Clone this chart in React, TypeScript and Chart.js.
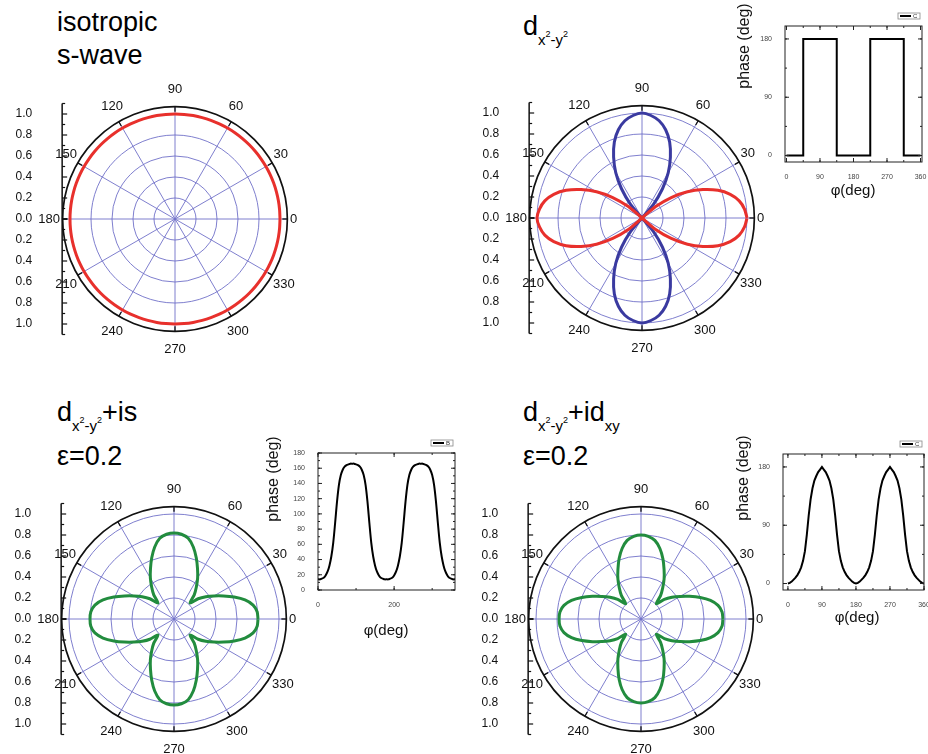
import React, { useEffect, useRef } from 'react';
import { Chart, registerables } from 'chart.js';
Chart.register(...registerables);

const FONT = "'Liberation Sans', Arial, Helvetica, sans-serif";

// ---------- polar data (angle in degrees, radius) ----------
const ANGLES_DEG = [
  0, 5, 10, 15, 20, 25, 30, 35, 40, 45, 50, 55, 60, 65, 70, 75, 80, 85,
  90, 95, 100, 105, 110, 115, 120, 125, 130, 135, 140, 145, 150, 155, 160, 165, 170, 175,
  180, 185, 190, 195, 200, 205, 210, 215, 220, 225, 230, 235, 240, 245, 250, 255, 260, 265,
  270, 275, 280, 285, 290, 295, 300, 305, 310, 315, 320, 325, 330, 335, 340, 345, 350, 355,
];

const ISO_S_R = [
  1.0, 1.0, 1.0, 1.0, 1.0, 1.0, 1.0, 1.0, 1.0, 1.0, 1.0, 1.0, 1.0, 1.0, 1.0, 1.0, 1.0, 1.0,
  1.0, 1.0, 1.0, 1.0, 1.0, 1.0, 1.0, 1.0, 1.0, 1.0, 1.0, 1.0, 1.0, 1.0, 1.0, 1.0, 1.0, 1.0,
  1.0, 1.0, 1.0, 1.0, 1.0, 1.0, 1.0, 1.0, 1.0, 1.0, 1.0, 1.0, 1.0, 1.0, 1.0, 1.0, 1.0, 1.0,
  1.0, 1.0, 1.0, 1.0, 1.0, 1.0, 1.0, 1.0, 1.0, 1.0, 1.0, 1.0, 1.0, 1.0, 1.0, 1.0, 1.0, 1.0,
];

// d_{x2-y2}: red = positive lobes, blue = negative lobes
const DX2Y2_POS_R = [
  1.00, 0.98, 0.94, 0.87, 0.77, 0.64, 0.50, 0.34, 0.17, 0.00,
  0, 0, 0, 0, 0, 0, 0, 0, 0, 0, 0, 0, 0, 0, 0, 0, 0,
  0.00, 0.17, 0.34, 0.50, 0.64, 0.77, 0.87, 0.94, 0.98, 1.00, 0.98, 0.94, 0.87, 0.77, 0.64, 0.50, 0.34, 0.17, 0.00,
  0, 0, 0, 0, 0, 0, 0, 0, 0, 0, 0, 0, 0, 0, 0, 0, 0,
  0.00, 0.17, 0.34, 0.50, 0.64, 0.77, 0.87, 0.94, 0.98,
];
const DX2Y2_NEG_R = [
  0, 0, 0, 0, 0, 0, 0, 0, 0, 0,
  0.17, 0.34, 0.50, 0.64, 0.77, 0.87, 0.94, 0.98, 1.00, 0.98, 0.94, 0.87, 0.77, 0.64, 0.50, 0.34, 0.17,
  0, 0, 0, 0, 0, 0, 0, 0, 0, 0, 0, 0, 0, 0, 0, 0, 0, 0, 0,
  0.17, 0.34, 0.50, 0.64, 0.77, 0.87, 0.94, 0.98, 1.00, 0.98, 0.94, 0.87, 0.77, 0.64, 0.50, 0.34, 0.17,
  0, 0, 0, 0, 0, 0, 0, 0, 0,
];

// d + is, eps = 0.2
const D_IS_R = [
  0.80, 0.795, 0.765, 0.70, 0.61, 0.52, 0.44, 0.37, 0.30, 0.215, 0.30, 0.37, 0.45, 0.53, 0.62, 0.71, 0.78, 0.81,
  0.82, 0.81, 0.78, 0.71, 0.62, 0.53, 0.45, 0.37, 0.30, 0.215, 0.30, 0.37, 0.44, 0.52, 0.61, 0.70, 0.765, 0.795,
  0.80, 0.795, 0.765, 0.70, 0.61, 0.52, 0.44, 0.37, 0.30, 0.215, 0.30, 0.37, 0.45, 0.53, 0.62, 0.71, 0.78, 0.81,
  0.82, 0.81, 0.78, 0.71, 0.62, 0.53, 0.45, 0.37, 0.30, 0.215, 0.30, 0.37, 0.44, 0.52, 0.61, 0.70, 0.765, 0.795,
];

// d + id_xy, eps = 0.2
const D_IDXY_R = [
  0.78, 0.775, 0.745, 0.685, 0.60, 0.51, 0.43, 0.36, 0.29, 0.205, 0.29, 0.36, 0.44, 0.52, 0.61, 0.695, 0.76, 0.79,
  0.80, 0.79, 0.76, 0.695, 0.61, 0.52, 0.44, 0.36, 0.29, 0.205, 0.29, 0.36, 0.43, 0.51, 0.60, 0.685, 0.745, 0.775,
  0.78, 0.775, 0.745, 0.685, 0.60, 0.51, 0.43, 0.36, 0.29, 0.205, 0.29, 0.36, 0.44, 0.52, 0.61, 0.695, 0.76, 0.79,
  0.80, 0.79, 0.76, 0.695, 0.61, 0.52, 0.44, 0.36, 0.29, 0.205, 0.29, 0.36, 0.43, 0.51, 0.60, 0.685, 0.745, 0.775,
];

const RING_VALUES = [0.2, 0.4, 0.6, 0.8, 1.0];
const SPOKE_ANGLES = [0, 30, 60, 90, 120, 150, 180, 210, 240, 270, 300, 330];
const RADIAL_TICKS = [0.0, 0.2, 0.4, 0.6, 0.8, 1.0];
const RADIAL_MINOR = [0.1, 0.3, 0.5, 0.7, 0.9, 1.1];

// ---------- inset phase data ----------
const DW_PHI = [0, 45, 45, 135, 135, 225, 225, 315, 315, 360];
const DW_PHASE = [0, 0, 180, 180, 0, 0, 180, 180, 0, 0];

const PHI_5 = [
  0, 5, 10, 15, 20, 25, 30, 35, 40, 45, 50, 55, 60, 65, 70, 75, 80, 85,
  90, 95, 100, 105, 110, 115, 120, 125, 130, 135, 140, 145, 150, 155, 160, 165, 170, 175,
  180, 185, 190, 195, 200, 205, 210, 215, 220, 225, 230, 235, 240, 245, 250, 255, 260, 265,
  270, 275, 280, 285, 290, 295, 300, 305, 310, 315, 320, 325, 330, 335, 340, 345, 350, 355, 360,
];
const DIS_PHASE = [
  14, 14, 15, 16, 19, 24, 32, 44, 62, 88, 116, 138, 151, 158, 162, 164, 165, 166,
  166, 166, 165, 164, 162, 158, 151, 138, 116, 88, 62, 44, 32, 24, 19, 16, 15, 14,
  14, 14, 15, 16, 19, 24, 32, 44, 62, 88, 116, 138, 151, 158, 162, 164, 165, 166,
  166, 166, 165, 164, 162, 158, 151, 138, 116, 88, 62, 44, 32, 24, 19, 16, 15, 14, 14,
];
const DIDXY_PHASE = [
  0, 1, 3, 6, 9, 13, 18, 25, 35, 50, 75, 105, 130, 147, 159, 166, 172, 176,
  180, 176, 172, 166, 159, 147, 130, 105, 75, 50, 35, 25, 18, 13, 9, 6, 3, 1,
  0, 1, 3, 6, 9, 13, 18, 25, 35, 50, 75, 105, 130, 147, 159, 166, 172, 176,
  180, 176, 172, 166, 159, 147, 130, 105, 75, 50, 35, 25, 18, 13, 9, 6, 3, 1, 0,
];

// tick values of the insets
const PHI_TICKS_90 = [0, 90, 180, 270, 360];
const PHASE_TICKS_90 = [0, 90, 180];
const PHI_TICKS_200 = [0, 200];
const PHASE_TICKS_20 = [0, 20, 40, 60, 80, 100, 120, 140, 160, 180];

// ---------- styling ----------
const RED = 'rgb(232,48,44)';
const BLUE = 'rgb(58,58,160)';
const GREEN = 'rgb(34,140,62)';
const GRID_COLOR = 'rgb(112,112,200)';
const OUTER_R = 1.07;
const AXIS_EXTENT = 1.1;
const LABEL_RX = 1.095;
const LABEL_RY = 1.238;

const POLAR_W = 310, POLAR_H = 290, POLAR_CX = 175, POLAR_CY = 145, POLAR_K = 105;

const polarFramePlugin = {
  id: 'polarFrame',
  beforeDatasetsDraw(chart: any) {
    const ctx = chart.ctx;
    const xs = chart.scales.x, ys = chart.scales.y;
    const cx = xs.getPixelForValue(0), cy = ys.getPixelForValue(0);
    const k = xs.getPixelForValue(1) - cx;
    const rad = (a: number) => (a * Math.PI) / 180;
    ctx.save();
    ctx.strokeStyle = GRID_COLOR;
    ctx.lineWidth = 0.9;
    RING_VALUES.forEach((r) => {
      ctx.beginPath();
      ctx.arc(cx, cy, r * k, 0, Math.PI * 2);
      ctx.stroke();
    });
    SPOKE_ANGLES.forEach((a) => {
      const t = rad(a);
      ctx.beginPath();
      ctx.moveTo(cx, cy);
      ctx.lineTo(cx + OUTER_R * k * Math.cos(t), cy - OUTER_R * k * Math.sin(t));
      ctx.stroke();
    });
    // outer circle
    ctx.strokeStyle = '#111';
    ctx.lineWidth = 1.7;
    ctx.beginPath();
    ctx.arc(cx, cy, OUTER_R * k, 0, Math.PI * 2);
    ctx.stroke();
    ctx.lineWidth = 1.3;
    SPOKE_ANGLES.forEach((a) => {
      const t = rad(a);
      const r1 = OUTER_R * k, r0 = r1 - 5;
      ctx.beginPath();
      ctx.moveTo(cx + r0 * Math.cos(t), cy - r0 * Math.sin(t));
      ctx.lineTo(cx + r1 * Math.cos(t), cy - r1 * Math.sin(t));
      ctx.stroke();
    });
    // left radial axis
    const ax = cx - OUTER_R * k - 0.5;
    ctx.lineWidth = 1.5;
    ctx.beginPath();
    ctx.moveTo(ax, cy - AXIS_EXTENT * k);
    ctx.lineTo(ax, cy + AXIS_EXTENT * k);
    ctx.stroke();
    ctx.lineWidth = 1.2;
    RADIAL_TICKS.forEach((v) => {
      [1, -1].forEach((s) => {
        const py = cy - s * v * k;
        ctx.beginPath();
        ctx.moveTo(ax, py);
        ctx.lineTo(ax + 5, py);
        ctx.stroke();
      });
    });
    RADIAL_MINOR.forEach((v) => {
      [1, -1].forEach((s) => {
        const py = cy - s * v * k;
        ctx.beginPath();
        ctx.moveTo(ax, py);
        ctx.lineTo(ax + 3, py);
        ctx.stroke();
      });
    });
    ctx.fillStyle = '#111';
    ctx.font = `12px ${FONT}`;
    ctx.textAlign = 'right';
    ctx.textBaseline = 'middle';
    RADIAL_TICKS.forEach((v) => {
      ctx.fillText(v.toFixed(1), ax - 30, cy - v * k);
      if (v > 0) ctx.fillText(v.toFixed(1), ax - 30, cy + v * k);
    });
    // angle labels
    ctx.font = `13px ${FONT}`;
    ctx.textAlign = 'center';
    SPOKE_ANGLES.forEach((a) => {
      const t = rad(a);
      const label = String(a);
      const w = ctx.measureText(label).width;
      const px = cx + (LABEL_RX * k + w / 2) * Math.cos(t);
      const py = cy - LABEL_RY * k * Math.sin(t);
      ctx.fillText(label, px, py);
    });
    ctx.restore();
  },
};

function toXY(r: number[]) {
  const pts = ANGLES_DEG.map((a, i) => ({
    x: r[i] * Math.cos((a * Math.PI) / 180),
    y: r[i] * Math.sin((a * Math.PI) / 180),
  }));
  pts.push(pts[0]);
  return pts;
}

type Series = { r: number[]; color: string };

function PolarPanel({ cx, cy, series }: { cx: number; cy: number; series: Series[] }) {
  const ref = useRef<HTMLCanvasElement>(null);
  useEffect(() => {
    const chart = new Chart(ref.current as HTMLCanvasElement, {
      type: 'scatter',
      data: {
        datasets: series.map((s) => ({
          data: toXY(s.r),
          showLine: true,
          borderColor: s.color,
          backgroundColor: s.color,
          borderWidth: 3,
          pointRadius: 0,
          tension: 0.25,
          borderJoinStyle: 'round',
          fill: false,
        })),
      },
      options: {
        animation: false,
        responsive: false,
        events: [],
        layout: { padding: 0 },
        scales: {
          x: { type: 'linear', display: false, min: -POLAR_CX / POLAR_K, max: (POLAR_W - POLAR_CX) / POLAR_K },
          y: { type: 'linear', display: false, min: -(POLAR_H - POLAR_CY) / POLAR_K, max: POLAR_CY / POLAR_K },
        },
        plugins: { legend: { display: false }, tooltip: { enabled: false } },
      } as any,
      plugins: [polarFramePlugin],
    } as any);
    return () => chart.destroy();
  }, []);
  return (
    <canvas
      ref={ref}
      width={POLAR_W}
      height={POLAR_H}
      style={{ position: 'absolute', left: cx - POLAR_CX, top: cy - POLAR_CY, width: POLAR_W, height: POLAR_H }}
    />
  );
}

const Y_TITLE = 'phase (deg)';
const X_TITLE = 'φ(deg)';

const insetDecoPlugin = {
  id: 'insetDeco',
  afterDraw(chart: any, _args: any, opts: any) {
    const ctx = chart.ctx;
    const a = chart.chartArea;
    const xs = chart.scales.x, ys = chart.scales.y;
    const seg = (x0: number, y0: number, x1: number, y1: number) => {
      ctx.beginPath();
      ctx.moveTo(x0, y0);
      ctx.lineTo(x1, y1);
      ctx.stroke();
    };
    ctx.save();
    ctx.strokeStyle = '#222';
    ctx.lineWidth = 1;
    ctx.strokeRect(a.left, a.top, a.right - a.left, a.bottom - a.top);
    xs.ticks.forEach((t: any) => {
      const p = xs.getPixelForValue(t.value);
      seg(p, a.bottom, p, a.bottom - 4);
      seg(p, a.top, p, a.top + 4);
    });
    ys.ticks.forEach((t: any) => {
      const p = ys.getPixelForValue(t.value);
      seg(a.left, p, a.left + 4, p);
      seg(a.right, p, a.right - 4, p);
    });
    for (let v = Math.ceil(xs.min / opts.xMinor) * opts.xMinor; v <= xs.max; v += opts.xMinor) {
      const p = xs.getPixelForValue(v);
      seg(p, a.bottom, p, a.bottom - 2);
      seg(p, a.top, p, a.top + 2);
    }
    for (let v = Math.ceil(ys.min / opts.yMinor) * opts.yMinor; v <= ys.max; v += opts.yMinor) {
      const p = ys.getPixelForValue(v);
      seg(a.left, p, a.left + 2, p);
      seg(a.right, p, a.right - 2, p);
    }
    // legend
    const lw = 22, lh = 6;
    const lr = a.right - 2, lb = a.top - 7;
    ctx.strokeStyle = '#888';
    ctx.lineWidth = 0.8;
    ctx.strokeRect(lr - lw, lb - lh, lw, lh);
    ctx.strokeStyle = '#000';
    ctx.lineWidth = 2;
    seg(lr - lw + 2, lb - lh / 2, lr - lw + 13, lb - lh / 2);
    ctx.fillStyle = '#333';
    ctx.font = `6px ${FONT}`;
    ctx.textAlign = 'left';
    ctx.textBaseline = 'middle';
    ctx.fillText(opts.legend, lr - lw + 15, lb - lh / 2 + 0.5);
    // titles
    ctx.fillStyle = '#111';
    ctx.font = `16px ${FONT}`;
    ctx.textAlign = 'center';
    ctx.textBaseline = 'middle';
    ctx.save();
    ctx.translate(opts.yTitleX, opts.yTitleY);
    ctx.rotate(-Math.PI / 2);
    ctx.fillText(Y_TITLE, 0, 0);
    ctx.restore();
    ctx.font = `15px ${FONT}`;
    ctx.fillText(X_TITLE, opts.xTitleX, opts.xTitleY);
    ctx.restore();
  },
};

type InsetProps = {
  left: number; top: number; width: number; height: number;
  area: { l: number; t: number; r: number; b: number };
  xs: number[]; ys: number[];
  xMin: number; xMax: number; xTicks: number[]; xMinor: number;
  yMin: number; yMax: number; yTicks: number[]; yMinor: number;
  tension: number; legend: string;
  yTitle: [number, number]; xTitle: [number, number];
};

function InsetPanel(p: InsetProps) {
  const ref = useRef<HTMLCanvasElement>(null);
  useEffect(() => {
    const padL = 5;
    const tickFont = { size: 7, family: FONT };
    const chart = new Chart(ref.current as HTMLCanvasElement, {
      type: 'scatter',
      data: {
        datasets: [
          {
            data: p.xs.map((x, i) => ({ x, y: p.ys[i] })),
            showLine: true,
            borderColor: '#000',
            backgroundColor: '#000',
            borderWidth: 2,
            pointRadius: 0,
            tension: p.tension,
            fill: false,
          },
        ],
      },
      options: {
        animation: false,
        responsive: false,
        events: [],
        layout: { padding: { left: padL, top: p.area.t, right: p.width - p.area.r, bottom: 0 } },
        scales: {
          x: {
            type: 'linear', min: p.xMin, max: p.xMax,
            grid: { display: false }, border: { display: false },
            ticks: { autoSkip: false, maxRotation: 0, font: tickFont, color: '#444', padding: 3 },
            afterBuildTicks: (s: any) => { s.ticks = p.xTicks.map((v) => ({ value: v })); },
            afterFit: (s: any) => { s.height = p.height - p.area.b; s.paddingLeft = 0; s.paddingRight = 0; },
          },
          y: {
            type: 'linear', min: p.yMin, max: p.yMax,
            grid: { display: false }, border: { display: false },
            ticks: { autoSkip: false, font: tickFont, color: '#444', padding: 5 },
            afterBuildTicks: (s: any) => { s.ticks = p.yTicks.map((v) => ({ value: v })); },
            afterFit: (s: any) => { s.width = p.area.l - padL; s.paddingTop = 0; s.paddingBottom = 0; },
          },
        },
        plugins: {
          legend: { display: false },
          tooltip: { enabled: false },
          insetDeco: {
            legend: p.legend, xMinor: p.xMinor, yMinor: p.yMinor,
            yTitleX: p.yTitle[0] - p.left, yTitleY: p.yTitle[1] - p.top,
            xTitleX: p.xTitle[0] - p.left, xTitleY: p.xTitle[1] - p.top,
          },
        },
      } as any,
      plugins: [insetDecoPlugin],
    } as any);
    return () => chart.destroy();
  }, []);
  return (
    <canvas
      ref={ref}
      width={p.width}
      height={p.height}
      style={{ position: 'absolute', left: p.left, top: p.top, width: p.width, height: p.height }}
    />
  );
}

const Sub = ({ children }: { children: any }) => (
  <span style={{ fontSize: 15, position: 'relative', top: 10 }}>{children}</span>
);
const Sup = ({ children }: { children: any }) => (
  <span style={{ fontSize: 9, position: 'relative', top: -8 }}>{children}</span>
);
const X2Y2 = () => (
  <Sub>
    x<Sup>2</Sup>-y<Sup>2</Sup>
  </Sub>
);

const titleStyle = (left: number, top: number): React.CSSProperties => ({
  position: 'absolute',
  left,
  top,
  fontFamily: FONT,
  fontSize: 27,
  lineHeight: '33px',
  color: '#000',
  whiteSpace: 'nowrap',
});

export default function App() {
  return (
    <div
      style={{
        position: 'fixed', left: 0, top: 0, width: 928, height: 754,
        background: '#fff', overflow: 'hidden',
      }}
    >
      <PolarPanel cx={175} cy={219} series={[{ r: ISO_S_R, color: RED }]} />
      <PolarPanel cx={642} cy={218} series={[{ r: DX2Y2_POS_R, color: RED }, { r: DX2Y2_NEG_R, color: BLUE }]} />
      <PolarPanel cx={174} cy={619} series={[{ r: D_IS_R, color: GREEN }]} />
      <PolarPanel cx={641} cy={619} series={[{ r: D_IDXY_R, color: GREEN }]} />

      <InsetPanel
        left={730} top={0} width={198} height={205}
        area={{ l: 55, t: 26, r: 192, b: 162 }}
        xs={DW_PHI} ys={DW_PHASE}
        xMin={-4} xMax={364} xTicks={PHI_TICKS_90} xMinor={45}
        yMin={-10} yMax={200} yTicks={PHASE_TICKS_90} yMinor={45}
        tension={0} legend="C"
        yTitle={[745, 46]} xTitle={[853, 191]}
      />
      <InsetPanel
        left={265} top={430} width={200} height={215}
        area={{ l: 53, t: 23, r: 190, b: 160 }}
        xs={PHI_5} ys={DIS_PHASE}
        xMin={0} xMax={360} xTicks={PHI_TICKS_200} xMinor={100}
        yMin={0} yMax={180} yTicks={PHASE_TICKS_20} yMinor={10}
        tension={0.3} legend="B"
        yTitle={[274, 479]} xTitle={[386, 631]}
      />
      <InsetPanel
        left={730} top={430} width={198} height={200}
        area={{ l: 53, t: 24, r: 194, b: 160 }}
        xs={PHI_5} ys={DIDXY_PHASE}
        xMin={-13} xMax={360} xTicks={PHI_TICKS_90} xMinor={45}
        yMin={-10} yMax={200} yTicks={PHASE_TICKS_90} yMinor={45}
        tension={0} legend="C"
        yTitle={[744, 478]} xTitle={[857, 618]}
      />

      <div style={titleStyle(57, 6)}>
        isotropic
        <br />
        s-wave
      </div>
      <div style={titleStyle(523, 10)}>
        d<X2Y2 />
      </div>
      <div style={titleStyle(57, 396)}>
        d<X2Y2 />+is
      </div>
      <div style={titleStyle(57, 440)}>ε=0.2</div>
      <div style={titleStyle(523, 396)}>
        d<X2Y2 />+id<Sub>xy</Sub>
      </div>
      <div style={titleStyle(523, 440)}>ε=0.2</div>
    </div>
  );
}
